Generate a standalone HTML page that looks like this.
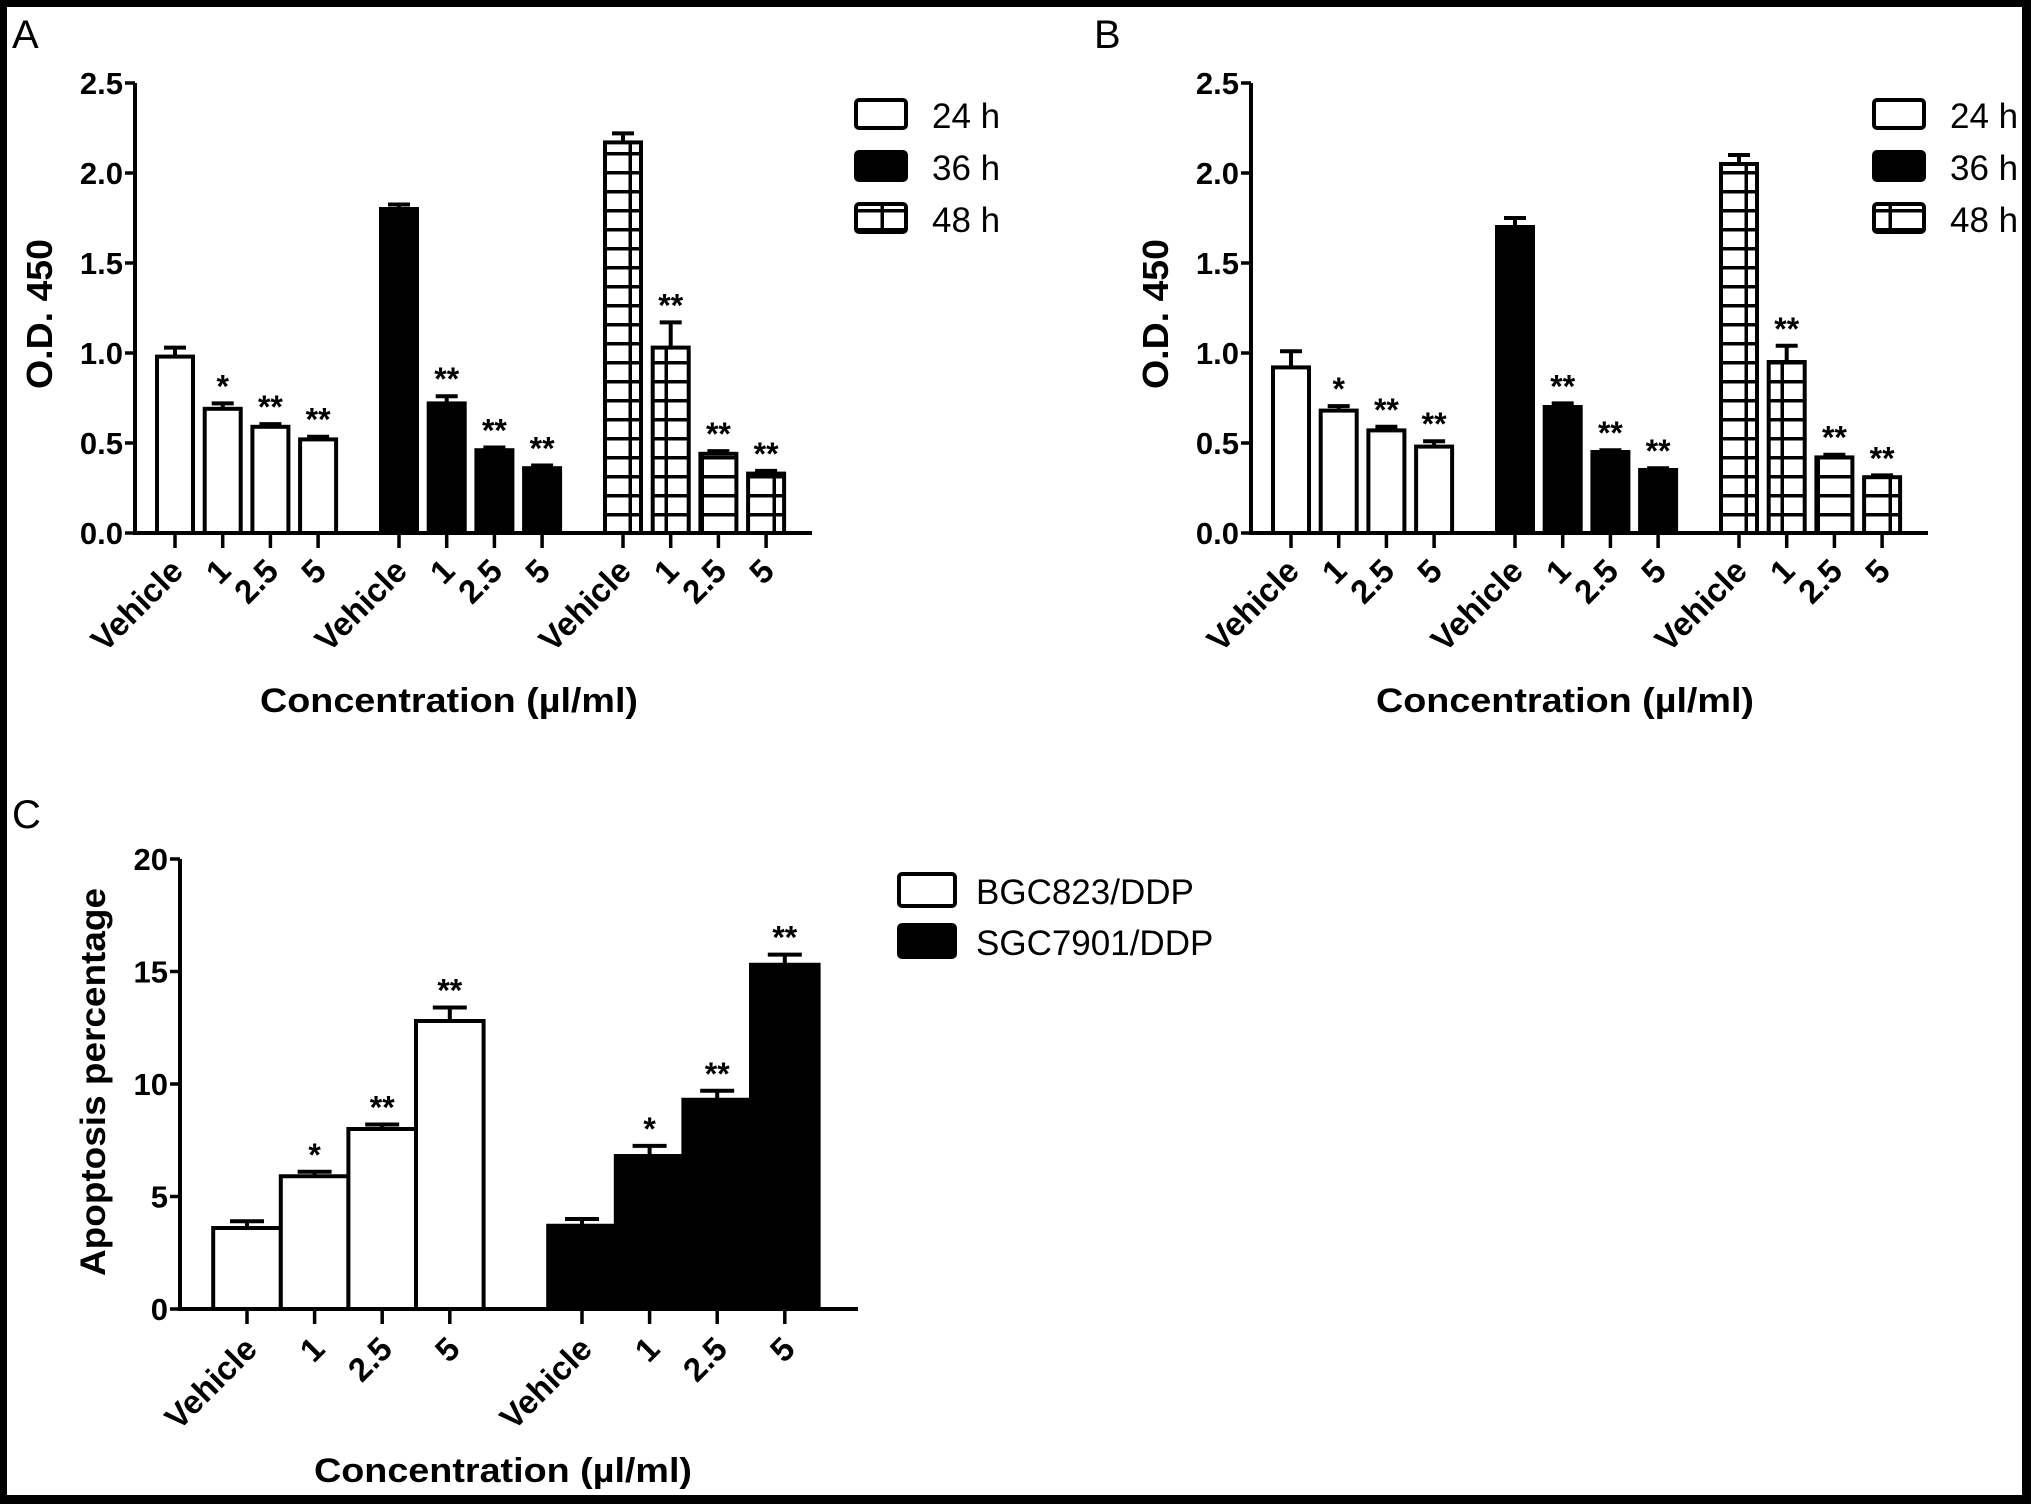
<!DOCTYPE html>
<html><head><meta charset="utf-8"><style>
html,body{margin:0;padding:0;background:#000;}
svg{display:block;}
text{font-family:"Liberation Sans",Arial,sans-serif;fill:#000;}
.b{font-weight:bold;}
</style></head><body>
<svg id="s" width="2031" height="1504" viewBox="0 0 2031 1504" xmlns="http://www.w3.org/2000/svg">
<defs>
<pattern id="grid" patternUnits="userSpaceOnUse" width="36" height="19" x="0" y="0">
<rect width="36" height="19" fill="#fff"/>
<rect x="16.5" y="0" width="3.5" height="19" fill="#000"/>
<rect x="0" y="0" width="36" height="3.5" fill="#000"/>
</pattern>
</defs>
<rect x="7" y="7" width="2015" height="1488" fill="#fff"/>
<text x="12" y="48" font-size="40">A</text>
<text x="1094" y="48" font-size="40">B</text>
<text x="12" y="828" font-size="40">C</text>
<g id="gA"></g>
<g id="gB"></g>
<g id="gC"></g>
</svg>
<script>
// Panel A data
const catLabels = ["Vehicle","1","2.5","5"];
const seriesNamesAB = ["24 h","36 h","48 h"];
const aVals24 = [0.98,0.69,0.59,0.52];
const aErr24 = [0.05,0.03,0.015,0.015];
const aVals36 = [1.80,0.72,0.46,0.36];
const aErr36 = [0.025,0.04,0.015,0.015];
const aVals48 = [2.17,1.03,0.44,0.33];
const aErr48 = [0.05,0.14,0.015,0.015];
const aStars = [["","*","**","**"],["","**","**","**"],["","**","**","**"]];
// Panel B data
const bVals24 = [0.92,0.68,0.57,0.48];
const bErr24 = [0.09,0.025,0.02,0.03];
const bVals36 = [1.70,0.70,0.45,0.35];
const bErr36 = [0.05,0.02,0.01,0.01];
const bVals48 = [2.05,0.95,0.42,0.31];
const bErr48 = [0.05,0.09,0.015,0.01];
const bStars = [["","*","**","**"],["","**","**","**"],["","**","**","**"]];
const odTicks = ["0.0","0.5","1.0","1.5","2.0","2.5"];
// Panel C data
const seriesNamesC = ["BGC823/DDP","SGC7901/DDP"];
const cValsBGC = [3.6,5.9,8.0,12.8];
const cErrBGC = [0.3,0.2,0.2,0.6];
const cValsSGC = [3.7,6.8,9.3,15.3];
const cErrSGC = [0.3,0.45,0.4,0.45];
const cStars = [["","*","**","**"],["","*","**","**"]];
const apTicks = ["0","5","10","15","20"];

const NS="http://www.w3.org/2000/svg";
function mk(parent,tag,attrs,txt){const e=document.createElementNS(NS,tag);for(const k in attrs)e.setAttribute(k,attrs[k]);if(txt!==undefined)e.textContent=txt;parent.appendChild(e);return e;}

function drawAB(g,dx,vals,errs,stars,legX){
  const x0=135+dx, y0=533, yTop=83, yMax=2.5;
  const yS=v=>y0-(v/yMax)*(y0-yTop);
  const groupStart=[175,399,623];
  const step=47.7, bw=36;
  const xS=(gi,ci)=>groupStart[gi]+dx+ci*step;
  const fills=["#fff","#000","url(#grid)"];
  for(let gi=0;gi<3;gi++){
    for(let ci=0;ci<4;ci++){
      const v=vals[gi][ci], e=errs[gi][ci], cx=xS(gi,ci);
      const r=mk(g,'rect',{x:cx-bw/2,y:yS(v),width:bw,height:y0-yS(v),fill:fills[gi],stroke:'#000','stroke-width':4});
      
      
      const el=mk(g,'path',{d:`M${cx} ${yS(v)}V${yS(v+e)}M${cx-11} ${yS(v+e)}H${cx+11}`,stroke:'#000','stroke-width':4,fill:'none'});
      
      
      if(stars[gi][ci]){
        const t=mk(g,'text',{x:cx,y:yS(v+e)-6,'font-size':32,'text-anchor':'middle',class:'b'},stars[gi][ci]);
        
        
      }
      const tk=mk(g,'line',{x1:cx,y1:y0,x2:cx,y2:y0+15,stroke:'#000','stroke-width':3.5});
      
      
      const lx=cx+10, ly=y0+40;
      const lt=mk(g,'text',{x:lx,y:ly,'font-size':33,'text-anchor':'end',class:'b',transform:`rotate(-45 ${lx} ${ly})`},catLabels[ci]);
      
      
    }
  }
  const ax=mk(g,'path',{d:`M${x0} ${yTop}V${y0}H${812+dx}`,stroke:'#000','stroke-width':4,fill:'none'});
  
  
  odTicks.forEach(s=>{
    const v=parseFloat(s), y=yS(v);
    const t=mk(g,'line',{x1:x0-10,y1:y,x2:x0,y2:y,stroke:'#000','stroke-width':3.5});
    
    
    const l=mk(g,'text',{x:x0-12,y:y+11,'font-size':31,'text-anchor':'end',class:'b'},s);
    
    
  });
  const yt=mk(g,'text',{x:0,y:0,'font-size':36,'text-anchor':'middle',class:'b',textLength:150,lengthAdjust:'spacingAndGlyphs',transform:`translate(52+${dx},314) rotate(-90)`.replace('52+'+dx,52+dx)},'O.D. 450');
  
  
  const xt=mk(g,'text',{x:449+dx,y:712,'font-size':34,'text-anchor':'middle',class:'b',textLength:378,lengthAdjust:'spacingAndGlyphs'},'Concentration (µl/ml)');
  
  
  const ly=[100,152,204];
  for(let i=0;i<3;i++){
    const lr=mk(g,'rect',{x:legX,y:ly[i],width:50,height:28,rx:3,fill:fills[i],stroke:'#000','stroke-width':4});
    
    
    const lt=mk(g,'text',{x:legX+76,y:ly[i]+28,'font-size':35},seriesNamesAB[i]);
    
    
  }
}
drawAB(document.getElementById('gA'),0,[aVals24,aVals36,aVals48],[aErr24,aErr36,aErr48],aStars,856);
drawAB(document.getElementById('gB'),1116,[bVals24,bVals36,bVals48],[bErr24,bErr36,bErr48],bStars,1874);

(function(){
  const g=document.getElementById('gC');
  const x0=180, y0=1309, yTop=859, yMax=20;
  const yS=v=>y0-(v/yMax)*(y0-yTop);
  const groupStart=[247,582], step=67.6, bw=67.6;
  const vals=[cValsBGC,cValsSGC], errs=[cErrBGC,cErrSGC];
  const fills=["#fff","#000"];
  for(let gi=0;gi<2;gi++){
    for(let ci=0;ci<4;ci++){
      const v=vals[gi][ci], e=errs[gi][ci], cx=groupStart[gi]+ci*step;
      const r=mk(g,'rect',{x:cx-bw/2,y:yS(v),width:bw,height:y0-yS(v),fill:fills[gi],stroke:'#000','stroke-width':4});
      
      
      const el=mk(g,'path',{d:`M${cx} ${yS(v)}V${yS(v+e)}M${cx-17} ${yS(v+e)}H${cx+17}`,stroke:'#000','stroke-width':4,fill:'none'});
      
      
      if(cStars[gi][ci]){
        const t=mk(g,'text',{x:cx,y:yS(v+e)-6,'font-size':32,'text-anchor':'middle',class:'b'},cStars[gi][ci]);
        
        
      }
      const tk=mk(g,'line',{x1:cx,y1:y0,x2:cx,y2:y0+15,stroke:'#000','stroke-width':3.5});
      
      
      const lx=cx+12, ly=y0+42;
      const lt=mk(g,'text',{x:lx,y:ly,'font-size':33,'text-anchor':'end',class:'b',transform:`rotate(-45 ${lx} ${ly})`},catLabels[ci]);
      
      
    }
  }
  const ax=mk(g,'path',{d:`M${x0} ${yTop}V${y0}H858`,stroke:'#000','stroke-width':4,fill:'none'});
  
  
  apTicks.forEach(s=>{
    const v=parseFloat(s), y=yS(v);
    const t=mk(g,'line',{x1:x0-10,y1:y,x2:x0,y2:y,stroke:'#000','stroke-width':3.5});
    
    
    const l=mk(g,'text',{x:x0-12,y:y+11,'font-size':31,'text-anchor':'end',class:'b'},s);
    
    
  });
  const yt=mk(g,'text',{x:0,y:0,'font-size':35,'text-anchor':'middle',class:'b',textLength:388,lengthAdjust:'spacingAndGlyphs',transform:`translate(105,1082) rotate(-90)`},'Apoptosis percentage');
  
  
  const xt=mk(g,'text',{x:503,y:1482,'font-size':34,'text-anchor':'middle',class:'b',textLength:378,lengthAdjust:'spacingAndGlyphs'},'Concentration (µl/ml)');
  
  
  const ly=[874,925];
  for(let i=0;i<2;i++){
    const lr=mk(g,'rect',{x:899,y:ly[i],width:56,height:32,rx:3,fill:fills[i],stroke:'#000','stroke-width':4});
    
    
    const lt=mk(g,'text',{x:976,y:ly[i]+30,'font-size':35},seriesNamesC[i]);
    
    
  }
})();
</script>
</body></html>
